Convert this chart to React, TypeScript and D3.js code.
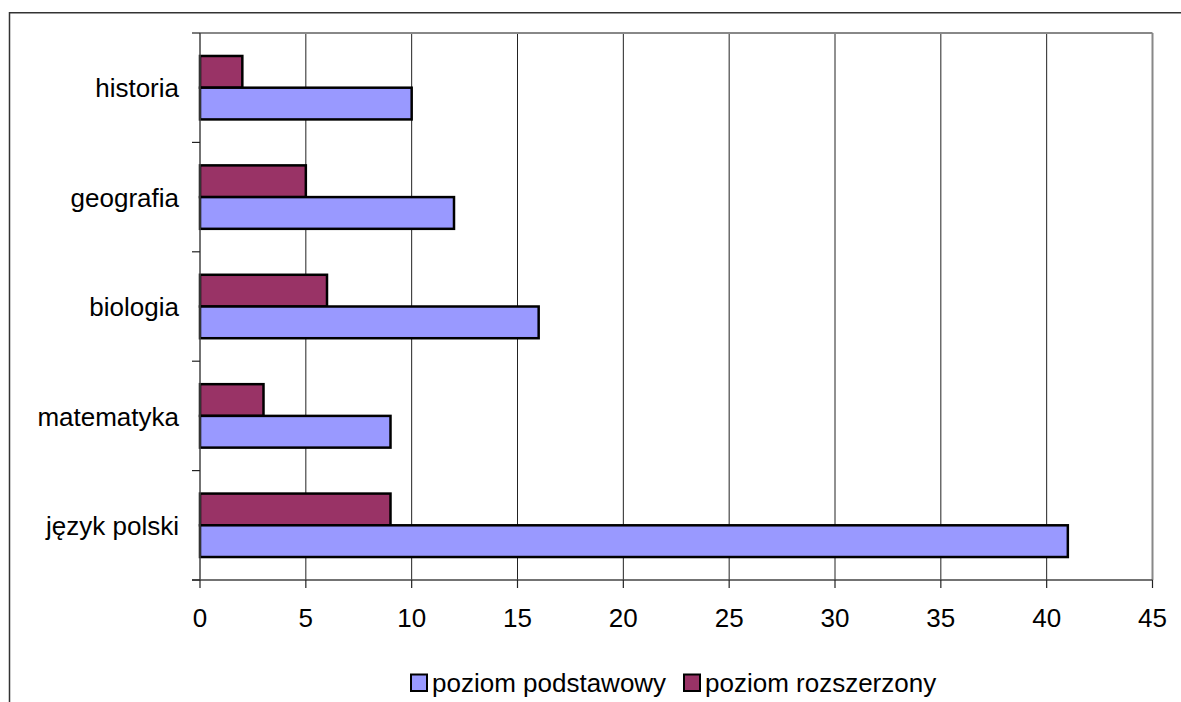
import React from "react";
import * as d3 from "d3";

const categories = ["język polski", "matematyka", "biologia", "geografia", "historia"];
const seriesNames = ["poziom podstawowy", "poziom rozszerzony"];
const podstawowy = [41, 9, 16, 12, 10];
const rozszerzony = [9, 3, 6, 5, 2];
const xTicks = [0, 5, 10, 15, 20, 25, 30, 35, 40, 45];
const colors = ["#9999FF", "#993366"];

const W = 1181;
const H = 702;
const left = 200;
const right = 1152.5;
const top = 33;
const bottom = 580;
const FONT = "'Liberation Sans', Arial, sans-serif";
const FS = 26;

export default function App() {
  const x = d3.scaleLinear().domain([0, 45]).range([left, right]);
  const y = d3
    .scaleBand<string>()
    .domain([...categories].reverse())
    .range([top, bottom])
    .paddingInner(0)
    .paddingOuter(0);
  const bw = y.bandwidth();
  const barH = bw * 0.29;
  const pad = (bw - 2 * barH) / 2;

  const boundaries = d3.range(categories.length + 1).map((i) => top + i * bw);

  const text = (tx: number, ty: number, s: string, anchor: string, key?: string) => (
    <text
      key={key}
      x={tx}
      y={ty}
      textAnchor={anchor as any}
      fontFamily={FONT}
      fontSize={FS}
      fill="#000"
    >
      {s}
    </text>
  );

  const legendItems = [
    { sx: 411, tx: 432, name: seriesNames[0], color: colors[0] },
    { sx: 684, tx: 705, name: seriesNames[1], color: colors[1] },
  ];

  return (
    <div style={{ position: "fixed", left: 0, top: 0, width: W, height: H, background: "#fff" }}>
      <svg width={W} height={H} style={{ display: "block" }}>
        <rect x={0} y={0} width={W} height={H} fill="#fff" />
        <rect x={9.5} y={12.75} width={W + 20} height={H + 20} fill="none" stroke="#333" strokeWidth={1.5} />
        {xTicks.slice(1, -1).map((t) => (
          <line key={"g" + t} x1={x(t)} x2={x(t)} y1={top} y2={bottom} stroke="#222" strokeWidth={1} />
        ))}
        <line x1={left} x2={right} y1={top} y2={top} stroke="#888" strokeWidth={2} />
        <line x1={right} x2={right} y1={top} y2={bottom} stroke="#888" strokeWidth={2} />
        {categories.map((c, i) => {
          const y0 = (y(c) as number) + pad;
          return (
            <g key={c}>
              <rect
                x={x(0)}
                y={y0}
                width={x(rozszerzony[i]) - x(0)}
                height={barH}
                fill={colors[1]}
                stroke="#000"
                strokeWidth={2.5}
              />
              <rect
                x={x(0)}
                y={y0 + barH}
                width={x(podstawowy[i]) - x(0)}
                height={barH}
                fill={colors[0]}
                stroke="#000"
                strokeWidth={2.5}
              />
            </g>
          );
        })}
        <line x1={left} x2={left} y1={top} y2={bottom} stroke="#444" strokeWidth={1.5} />
        <line x1={left - 8} x2={right} y1={bottom} y2={bottom} stroke="#444" strokeWidth={1.5} />
        {boundaries.map((b, i) => (
          <line key={"yt" + i} x1={left - 8} x2={left} y1={b} y2={b} stroke="#222" strokeWidth={1.2} />
        ))}
        {xTicks.map((t) => (
          <line key={"xt" + t} x1={x(t)} x2={x(t)} y1={bottom} y2={bottom + 8} stroke="#222" strokeWidth={1.2} />
        ))}
        {xTicks.map((t) => text(x(t), 627, String(t), "middle", "xl" + t))}
        {categories.map((c) => text(179, (y(c) as number) + bw / 2 + 9.6, c, "end", "cl" + c))}
        {legendItems.map((it) => (
          <g key={it.name}>
            <rect x={it.sx} y={674.5} width={16} height={16.5} fill={it.color} stroke="#000" strokeWidth={2} />
            {text(it.tx, 691.5, it.name, "start")}
          </g>
        ))}
      </svg>
    </div>
  );
}
